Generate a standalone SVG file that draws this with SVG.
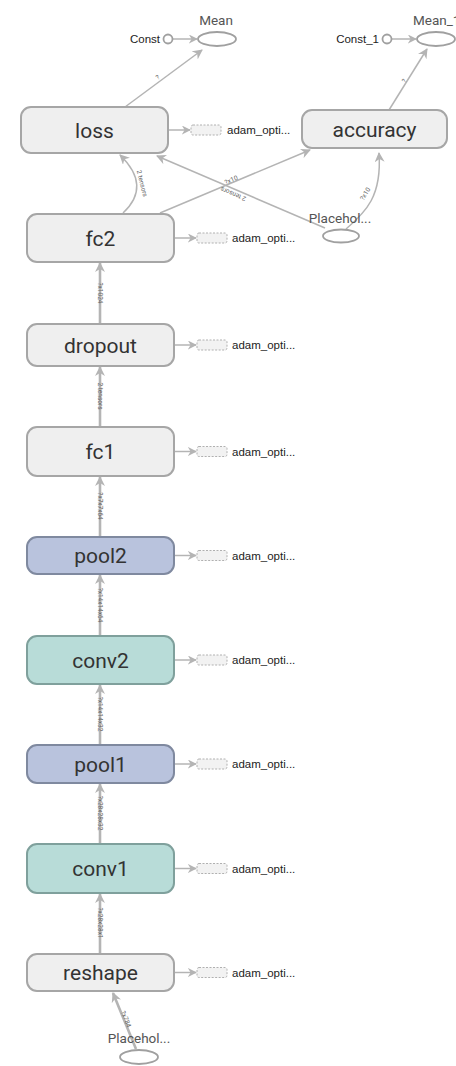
<svg xmlns="http://www.w3.org/2000/svg" width="456" height="1066" viewBox="0 0 456 1066">
<defs>
<marker id="arr" viewBox="0 0 10 10" refX="9" refY="5" markerWidth="10" markerHeight="10" markerUnits="userSpaceOnUse" orient="auto">
<path d="M0,0 L10,5 L0,10 L3,5 z" fill="#b4b4b4"/>
</marker>
<marker id="arrs" viewBox="0 0 10 10" refX="9" refY="5" markerWidth="9" markerHeight="9" markerUnits="userSpaceOnUse" orient="auto">
<path d="M0,0 L10,5 L0,10 L3,5 z" fill="#b4b4b4"/>
</marker>
</defs>
<style>
.node rect.main{fill:#efefef;stroke:#a6a6a6;stroke-width:2}
.node rect.pool{fill:#b9c3dd;stroke:#7f899f;stroke-width:2}
.node rect.conv{fill:#b8dcd8;stroke:#7fa09c;stroke-width:2}
.lbl{font-family:Roboto,"Liberation Sans",sans-serif;font-size:21px;fill:#333;text-anchor:middle}
.small{font-family:"Liberation Sans",Arial,sans-serif;font-size:11.5px;fill:#222}
.olbl{font-family:Roboto,"Liberation Sans",sans-serif;font-size:13.5px;fill:#555;text-anchor:middle}
.aux{fill:#f2f2f2;stroke:#b0b0b0;stroke-width:1;stroke-dasharray:2,1.5}
.ell{fill:#fff;stroke:#a0a0a0;stroke-width:1.8}
.e{stroke:#b4b4b4;fill:none}
.thick{stroke-width:2.6}
.thin{stroke-width:1.5}
.el{font-family:Roboto,"Liberation Sans",sans-serif;font-size:6.5px;fill:#666;text-anchor:middle}
</style>

<g id="edges">
<line class="e thin" x1="173" y1="39" x2="197" y2="39" marker-end="url(#arrs)"/>
<line class="e thin" x1="392" y1="39" x2="416" y2="39" marker-end="url(#arrs)"/>
<line class="e thin" x1="125" y1="107" x2="202" y2="50" marker-end="url(#arr)"/>
<text class="el" transform="translate(159,79) rotate(-36)">?</text>
<line class="e thin" x1="389" y1="110" x2="427" y2="49" marker-end="url(#arr)"/>
<text class="el" transform="translate(406,82) rotate(-58)">?</text>
<path class="e thin" d="M123,213 Q152,186 120,155" marker-end="url(#arr)"/>
<text class="el" transform="translate(140,184) rotate(76)">2 tensors</text>
<line class="e thin" x1="160" y1="213" x2="310" y2="150" marker-end="url(#arr)"/>
<text class="el" transform="translate(232,182) rotate(-23)">?x10</text>
<line class="e thin" x1="325" y1="228" x2="157" y2="156" marker-end="url(#arr)"/>
<text class="el" transform="translate(234,192) rotate(203)">2 tensors</text>
<path class="e thin" d="M346,229 C366,212 382,196 379,153" marker-end="url(#arr)"/>
<text class="el" transform="translate(367,195) rotate(-58)">?x10</text>
<line class="e thick" x1="100" y1="324" x2="100" y2="263" marker-end="url(#arr)"/>
<text class="el" transform="translate(98,293) rotate(90)">?x1024</text>
<line class="e thick" x1="100" y1="427" x2="100" y2="367" marker-end="url(#arr)"/>
<text class="el" transform="translate(98,396) rotate(90)">2 tensors</text>
<line class="e thick" x1="100" y1="537" x2="100" y2="477" marker-end="url(#arr)"/>
<text class="el" transform="translate(98,506) rotate(90)">?x7x7x64</text>
<line class="e thick" x1="100" y1="636" x2="100" y2="575" marker-end="url(#arr)"/>
<text class="el" transform="translate(98,605) rotate(90)">?x14x14x64</text>
<line class="e thick" x1="100" y1="745" x2="100" y2="685" marker-end="url(#arr)"/>
<text class="el" transform="translate(98,714) rotate(90)">?x14x14x32</text>
<line class="e thick" x1="100" y1="844" x2="100" y2="784" marker-end="url(#arr)"/>
<text class="el" transform="translate(98,813) rotate(90)">?x28x28x32</text>
<line class="e thick" x1="100" y1="954" x2="100" y2="894" marker-end="url(#arr)"/>
<text class="el" transform="translate(98,923) rotate(90)">?x28x28x1</text>
<line class="e thick" x1="136" y1="1049" x2="113" y2="993" marker-end="url(#arr)"/>
<text class="el" transform="translate(124,1020) rotate(68)">?x784</text>
<line class="e thin" x1="168" y1="130" x2="190" y2="130" marker-end="url(#arrs)"/>
<line class="e thin" x1="174" y1="238" x2="196" y2="238" marker-end="url(#arrs)"/>
<line class="e thin" x1="174" y1="345" x2="196" y2="345" marker-end="url(#arrs)"/>
<line class="e thin" x1="174" y1="451.5" x2="196" y2="451.5" marker-end="url(#arrs)"/>
<line class="e thin" x1="174" y1="555.5" x2="196" y2="555.5" marker-end="url(#arrs)"/>
<line class="e thin" x1="174" y1="660" x2="196" y2="660" marker-end="url(#arrs)"/>
<line class="e thin" x1="174" y1="764" x2="196" y2="764" marker-end="url(#arrs)"/>
<line class="e thin" x1="174" y1="868.5" x2="196" y2="868.5" marker-end="url(#arrs)"/>
<line class="e thin" x1="174" y1="972.5" x2="196" y2="972.5" marker-end="url(#arrs)"/>
</g>

<g id="Const" class="node"><circle class="ell" cx="168" cy="39" r="4.5"/><text class="small" x="160" y="43" text-anchor="end">Const</text></g>
<g id="Mean" class="node"><ellipse class="ell" cx="217" cy="39" rx="19" ry="7"/><text class="olbl" x="216" y="25">Mean</text></g>
<g id="Const_1" class="node"><circle class="ell" cx="387" cy="39" r="4.5"/><text class="small" x="379" y="43" text-anchor="end">Const_1</text></g>
<g id="Mean_1" class="node"><ellipse class="ell" cx="436" cy="39" rx="19" ry="7"/><text class="olbl" x="413" y="25" style="text-anchor:start">Mean_1</text></g>

<g id="loss" class="node"><rect class="main" x="21" y="107" width="147" height="46" rx="10"/><text class="lbl" x="94.5" y="137.5">loss</text></g>
<g id="loss_aux" class="node"><rect class="aux" x="191" y="125" width="30" height="10" rx="2"/><text class="small" x="227" y="134">adam_opti...</text></g>
<g id="accuracy" class="node"><rect class="main" x="302" y="110" width="145" height="38" rx="10"/><text class="lbl" x="374.5" y="136.5">accuracy</text></g>
<g id="Placeholder_1" class="node"><text class="olbl" x="340" y="223">Placehol...</text><ellipse class="ell" cx="341" cy="236" rx="18" ry="6.5"/></g>

<g id="fc2" class="node"><rect class="main" x="27" y="214" width="147" height="48" rx="10"/><text class="lbl" x="100.5" y="245.5">fc2</text></g>
<g id="dropout" class="node"><rect class="main" x="27" y="324" width="147" height="42" rx="10"/><text class="lbl" x="100.5" y="352.5">dropout</text></g>
<g id="fc1" class="node"><rect class="main" x="27" y="427" width="147" height="49" rx="10"/><text class="lbl" x="100.5" y="459">fc1</text></g>
<g id="pool2" class="node"><rect class="pool" x="27" y="537" width="147" height="37" rx="10"/><text class="lbl" x="100.5" y="563">pool2</text></g>
<g id="conv2" class="node"><rect class="conv" x="27" y="636" width="147" height="48" rx="10"/><text class="lbl" x="100.5" y="667.5">conv2</text></g>
<g id="pool1" class="node"><rect class="pool" x="27" y="745" width="147" height="38" rx="10"/><text class="lbl" x="100.5" y="771.5">pool1</text></g>
<g id="conv1" class="node"><rect class="conv" x="27" y="844" width="147" height="49" rx="10"/><text class="lbl" x="100.5" y="876">conv1</text></g>
<g id="reshape" class="node"><rect class="main" x="27" y="954" width="147" height="37" rx="10"/><text class="lbl" x="100.5" y="980">reshape</text></g>
<g id="Placeholder" class="node"><text class="olbl" x="139" y="1043">Placehol...</text><ellipse class="ell" cx="139" cy="1057" rx="19" ry="7"/></g>

<g id="aux">
<g id="fc2_aux"><rect class="aux" x="197" y="233" width="30" height="10" rx="2"/><text class="small" x="232" y="242">adam_opti...</text></g>
<g id="dropout_aux"><rect class="aux" x="197" y="340" width="30" height="10" rx="2"/><text class="small" x="232" y="349">adam_opti...</text></g>
<g id="fc1_aux"><rect class="aux" x="197" y="446.5" width="30" height="10" rx="2"/><text class="small" x="232" y="455.5">adam_opti...</text></g>
<g id="pool2_aux"><rect class="aux" x="197" y="550.5" width="30" height="10" rx="2"/><text class="small" x="232" y="559.5">adam_opti...</text></g>
<g id="conv2_aux"><rect class="aux" x="197" y="655" width="30" height="10" rx="2"/><text class="small" x="232" y="664">adam_opti...</text></g>
<g id="pool1_aux"><rect class="aux" x="197" y="759" width="30" height="10" rx="2"/><text class="small" x="232" y="768">adam_opti...</text></g>
<g id="conv1_aux"><rect class="aux" x="197" y="863.5" width="30" height="10" rx="2"/><text class="small" x="232" y="872.5">adam_opti...</text></g>
<g id="reshape_aux"><rect class="aux" x="197" y="967.5" width="30" height="10" rx="2"/><text class="small" x="232" y="976.5">adam_opti...</text></g>
</g>
</svg>
